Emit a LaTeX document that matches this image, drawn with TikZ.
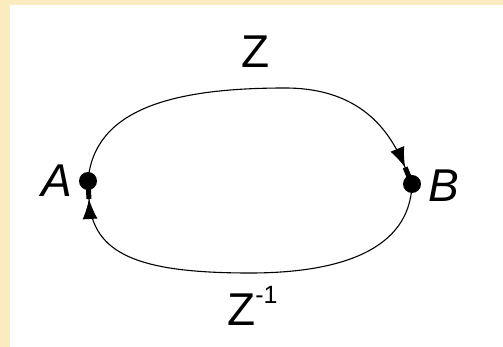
\documentclass[tikz,border=0pt]{standalone}
\usepackage{fontspec}
\setmainfont{Liberation Sans}
\usetikzlibrary{arrows.meta}
\definecolor{cream}{RGB}{251,236,192}
\tikzset{
  curveline/.style={line width=1.1pt, black},
  dotnode/.style={circle, fill=black, inner sep=0pt, minimum size=18pt},
  arrowend/.style={-{Latex[length=20pt,width=15pt]Rectangle[length=18pt,width=5pt]}},
  lbl/.style={inner sep=0pt, font=\fontsize{46}{46}\selectfont}
}
\begin{document}
\begin{tikzpicture}[x=1pt,y=-1pt]
\useasboundingbox (0,0) rectangle (503,347);
\fill[cream] (0,0) rectangle (503,347);
\fill[white] (10,5) rectangle (503,347);
\node[dotnode] (A) at (88,181) {};
\node[dotnode] (B) at (412,184) {};
\coordinate (top) at (285,88);
\coordinate (bot) at (250,273);
\draw[curveline, arrowend] (A.center) .. controls (94,108) and (175,88) .. (top)
  .. controls (365,88) and (392,136) .. (B.center);
\draw[curveline, arrowend] (B.center) .. controls (410,250) and (340,273) .. (bot)
  .. controls (140,273) and (92,255) .. (A.center);
\node[lbl, anchor=base] (la) at (57,197) {\itshape A};
\node[lbl, anchor=base] (lb) at (444,202) {\itshape B};
\node[lbl, anchor=base] (lz) at (256,68) {Z};
\node[lbl, anchor=base west] (lzi) at (227,325) {Z\raisebox{22pt}{\fontsize{25}{25}\selectfont -1}};
\end{tikzpicture}
\end{document}
